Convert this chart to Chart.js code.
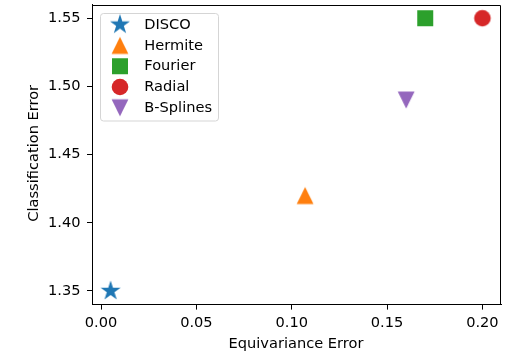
<!DOCTYPE html>
<html>
<head>
<meta charset="utf-8">
<script src="https://cdn.jsdelivr.net/npm/chart.js@4/dist/chart.umd.min.js"></script>
<style>
  html, body { margin: 0; padding: 0; background: #fff; }
  #wrap { width: 510px; height: 354px; }
</style>
</head>
<body>
<div id="wrap"><canvas id="c" width="510" height="354"></canvas></div>
<script>
// ---- data ----
const methods = ["DISCO", "Hermite", "Fourier", "Radial", "B-Splines"];
const equivarianceError = [0.005, 0.107, 0.170, 0.200, 0.160];
const classificationError = [1.35, 1.42, 1.55, 1.55, 1.49];
const colors = ["#1f77b4", "#ff7f0e", "#2ca02c", "#d62728", "#9467bd"];
const markers = ["star", "triangleUp", "square", "circle", "triangleDown"];
const xTicks = [0.00, 0.05, 0.10, 0.15, 0.20];
const yTicks = [1.35, 1.40, 1.45, 1.50, 1.55];
const xLimits = [-0.00475, 0.20975];
const yLimits = [1.34, 1.56];
const xTitle = "Equivariance Error";
const yTitle = "Classification Error";

const FONT = "'DejaVu Sans', sans-serif";
const FS = 14.6;

function makeMarker(kind, color) {
  const S = 26;
  const cv = document.createElement('canvas');
  cv.width = S; cv.height = S;
  const g = cv.getContext('2d');
  const c = S / 2;
  g.fillStyle = color;
  g.beginPath();
  if (kind === 'star') {
    const R = 10.5, r = R * 0.381966;
    for (let i = 0; i < 10; i++) {
      const a = -Math.PI / 2 + i * Math.PI / 5;
      const rr = i % 2 === 0 ? R : r;
      const px = c + rr * Math.cos(a), py = c + rr * Math.sin(a);
      if (i === 0) g.moveTo(px, py); else g.lineTo(px, py);
    }
    g.closePath();
  } else if (kind === 'triangleUp') {
    const h = 8.4;
    g.moveTo(c, c - h); g.lineTo(c + h, c + h); g.lineTo(c - h, c + h); g.closePath();
  } else if (kind === 'triangleDown') {
    const h = 8.4;
    g.moveTo(c, c + h); g.lineTo(c + h, c - h); g.lineTo(c - h, c - h); g.closePath();
  } else if (kind === 'square') {
    g.rect(c - 8, c - 8, 16, 16);
  } else {
    g.arc(c, c, 8.3, 0, Math.PI * 2);
  }
  g.fill();
  return cv;
}

const markerImgs = methods.map((m, i) => makeMarker(markers[i], colors[i]));

const datasets = methods.map((m, i) => ({
  label: m,
  data: [{ x: equivarianceError[i], y: classificationError[i] }],
  pointStyle: markerImgs[i],
  backgroundColor: colors[i],
  borderColor: colors[i],
  pointRadius: 10,
  showLine: false
}));

const framePlugin = {
  id: 'frame',
  afterDatasetsDraw(chart) {
    const { ctx, chartArea: a } = chart;
    ctx.save();
    ctx.strokeStyle = '#000';
    ctx.lineWidth = 1;
    const l = Math.round(a.left) + 0.5, r = Math.round(a.right) - 0.5;
    const t = Math.round(a.top) + 0.5, b = Math.round(a.bottom) - 0.5;
    ctx.beginPath();
    ctx.moveTo(l, t); ctx.lineTo(r, t); ctx.lineTo(r, b);
    ctx.stroke();
    // axis titles
    ctx.fillStyle = '#000';
    ctx.font = FS + "px " + FONT;
    ctx.textAlign = 'center';
    ctx.textBaseline = 'alphabetic';
    ctx.fillText(xTitle, (a.left + a.right) / 2 - 0.5, 348.3);
    ctx.translate(38.3, (a.top + a.bottom) / 2 - 1.3);
    ctx.rotate(-Math.PI / 2);
    ctx.fillText(yTitle, 0, 0);
    ctx.restore();
  }
};

const legendPlugin = {
  id: 'boxLegend',
  afterDraw(chart) {
    const { ctx } = chart;
    const bx = 100.5, by = 13.5, bw = 118, bh = 107.5, rad = 3;
    ctx.save();
    ctx.fillStyle = 'rgba(255,255,255,0.8)';
    ctx.strokeStyle = '#d5d5d5';
    ctx.lineWidth = 1;
    ctx.beginPath();
    ctx.moveTo(bx + rad, by);
    ctx.lineTo(bx + bw - rad, by); ctx.arcTo(bx + bw, by, bx + bw, by + rad, rad);
    ctx.lineTo(bx + bw, by + bh - rad); ctx.arcTo(bx + bw, by + bh, bx + bw - rad, by + bh, rad);
    ctx.lineTo(bx + rad, by + bh); ctx.arcTo(bx, by + bh, bx, by + bh - rad, rad);
    ctx.lineTo(bx, by + rad); ctx.arcTo(bx, by, bx + rad, by, rad);
    ctx.closePath();
    ctx.fill(); ctx.stroke();
    ctx.font = FS + "px " + FONT;
    ctx.fillStyle = '#000';
    ctx.textBaseline = 'middle';
    ctx.textAlign = 'left';
    chart.data.datasets.forEach((ds, i) => {
      const y = 24.6 + i * 20.8;
      const img = ds.pointStyle;
      ctx.drawImage(img, 120 - img.width / 2, y - img.height / 2);
      ctx.fillText(ds.label, 144.3, y + 0.5);
    });
    ctx.restore();
  }
};

Chart.defaults.color = '#000';
Chart.defaults.font.family = FONT;
Chart.defaults.font.size = FS;

function zeroPad(s) { s.paddingTop = 0; s.paddingBottom = 0; s.paddingLeft = 0; s.paddingRight = 0; }

new Chart(document.getElementById('c'), {
  type: 'scatter',
  data: { datasets },
  options: {
    responsive: false,
    animation: false,
    events: [],
    layout: { autoPadding: false, padding: { left: 0, top: 4.6, right: 9, bottom: 0 } },
    plugins: { legend: { display: false }, tooltip: { enabled: false } },
    scales: {
      x: {
        type: 'linear',
        min: xLimits[0], max: xLimits[1],
        afterBuildTicks(s) { s.ticks = xTicks.map(v => ({ value: v })); },
        afterFit(s) { s.height = 354 - 304.6; zeroPad(s); },
        ticks: { callback: v => Number(v).toFixed(2), padding: 5.0, color: '#000', font: { size: FS } },
        grid: { drawOnChartArea: false, drawTicks: true, tickLength: 5, color: '#000', tickWidth: 1 },
        border: { display: true, color: '#000', width: 1 },
        title: { display: false }
      },
      y: {
        type: 'linear',
        min: yLimits[0], max: yLimits[1],
        afterBuildTicks(s) { s.ticks = yTicks.map(v => ({ value: v })); },
        afterFit(s) { s.width = 92; zeroPad(s); },
        ticks: { callback: v => Number(v).toFixed(2), padding: 6.5, color: '#000', font: { size: FS } },
        grid: { drawOnChartArea: false, drawTicks: true, tickLength: 5, color: '#000', tickWidth: 1 },
        border: { display: true, color: '#000', width: 1 },
        title: { display: false }
      }
    }
  },
  plugins: [framePlugin, legendPlugin]
});
</script>
</body>
</html>
